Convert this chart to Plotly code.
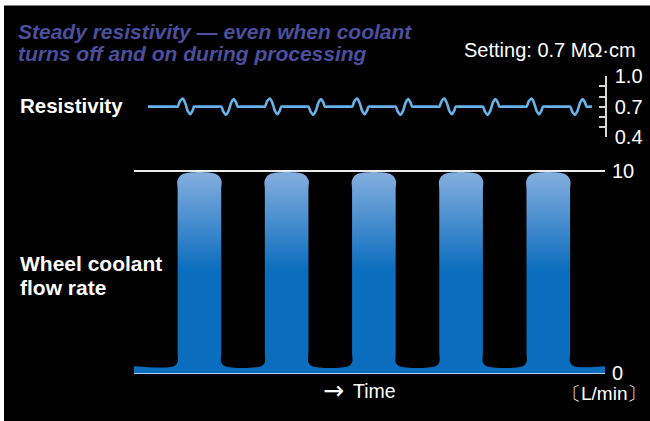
import plotly.graph_objects as go

W = 650
HF = 442          # figure height (page is photographed with a vertical squeeze)

# ---------------- data ----------------
coolant_on_times = [10, 30, 50, 70, 90]      # coolant switched on
coolant_off_times = [20, 40, 60, 80, 100]    # coolant switched off
flow_running = 9.85                          # L/min while coolant is on
flow_idle = 0.35                             # L/min while coolant is off
time_start, time_end = 0, 108
res_setting = 0.7                            # MΩ·cm
res_line_start, res_line_end = 3.2, 105
# resistivity excursion after a switch (time after switch, deviation from setting)
wiggle_dt = [0.0, 0.5, 1.15, 1.65, 2.0, 2.35, 2.9, 3.4, 3.8]
wiggle_dv = [0.0, 0.05, 0.08, 0.045, 0.0, -0.045, -0.075, -0.042, 0.0]
res_tick_vals = [0.4, 0.7, 1.0]
res_tick_text = ["0.4", "0.7", "1.0"]
res_minor_vals = [0.5, 0.6, 0.8, 0.9]
flow_tick_vals = [0, 10]
flow_tick_text = ["0", "10"]

# ---------------- style ----------------
FONT = "Liberation Sans"
BG = "black"
WHITE = "white"
BAR_DARK = "#0a6dbd"
BAR_LIGHT = "#82addf"
RES_COLOR = "#68b3ea"
TITLE_COLOR = "#4b4f9e"
AXIS_GRAY = "#d6d6d6"
BX, BY = 0.9, 0.2     # bottom fillet of the flow curve
TX, TY = 1.2, 0.3     # top rounded corner
EDGE_GUARD = 0.5      # extra points keeping the bar sides straight
FLAT_GUARD = 0.6

# photographed page: image_y = SQ * page_y + OFF ; figure placed TOP px above page top
SQ, OFF, TOP = 0.953, 9.3, 6


def px_x(p):
    return p / W


def fig_y(img_y):
    return (img_y - OFF) / SQ + TOP


def px_y(img_y):
    return 1 - fig_y(img_y) / HF


# flow curve key points
fx = [time_start]
fy = [flow_idle]
for t0, t1 in zip(coolant_on_times, coolant_off_times):
    fx += [t0 - BX, t0, t0, t0, t0, t0 + TX,
           t1 - TX, t1, t1, t1, t1, t1 + BX]
    fy += [flow_idle, flow_idle + BY, flow_idle + BY + EDGE_GUARD,
           flow_running - TY - EDGE_GUARD, flow_running - TY, flow_running,
           flow_running, flow_running - TY, flow_running - TY - EDGE_GUARD,
           flow_idle + BY + EDGE_GUARD, flow_idle + BY, flow_idle]
fx.append(time_end)
fy.append(flow_idle)

# resistivity key points: up-then-down after switch-on, down-then-up after switch-off
events = sorted([(t, 1) for t in coolant_on_times] +
                [(t, -1) for t in coolant_off_times])
rx = [res_line_start]
ry = [res_setting]
for t, sign in events:
    rx.append(t - FLAT_GUARD)
    ry.append(res_setting)
    for dt, dv in zip(wiggle_dt, wiggle_dv):
        rx.append(t + dt)
        ry.append(res_setting + sign * dv)
    rx.append(t + wiggle_dt[-1] + FLAT_GUARD)
    ry.append(res_setting)
rx.append(res_line_end)
ry.append(res_setting)

fig = go.Figure()

fig.add_trace(go.Scatter(
    x=fx, y=fy, mode="lines", xaxis="x", yaxis="y",
    line=dict(width=0, shape="spline", smoothing=1, color=BAR_DARK),
    fill="tozeroy",
    fillgradient=dict(type="vertical", start=0, stop=flow_running,
                      colorscale=[[0, BAR_DARK], [0.54, BAR_DARK], [1, BAR_LIGHT]]),
    hoverinfo="skip", showlegend=False,
))

fig.add_trace(go.Scatter(
    x=rx, y=ry, mode="lines", xaxis="x2", yaxis="y2",
    line=dict(width=2.6, shape="spline", smoothing=0.8, color=RES_COLOR),
    hoverinfo="skip", showlegend=False,
))

# flow axis: 0 at image y 373, 10 at image y 170 (range padded by 0.3 each side)
f0, f10 = fig_y(373), fig_y(170)
unit = (f0 - f10) / 10
flow_dom = [1 - (f0 + 0.3 * unit) / HF, 1 - (f10 - 0.3 * unit) / HF]

xdom = [px_x(134), px_x(605)]
fig.update_layout(
    width=W, height=HF,
    margin=dict(l=0, r=0, t=0, b=0),
    paper_bgcolor=WHITE,
    plot_bgcolor="rgba(0,0,0,0)",
    font=dict(family=FONT, color=WHITE, size=20),
    showlegend=False,
    xaxis=dict(domain=xdom, range=[time_start, time_end], visible=False,
               anchor="y", fixedrange=True),
    xaxis2=dict(domain=xdom, range=[time_start, time_end], visible=False,
                anchor="y2", fixedrange=True),
    yaxis=dict(domain=flow_dom, range=[-0.3, 10.3],
               side="right", anchor="x",
               tickmode="array", tickvals=flow_tick_vals, ticktext=flow_tick_text,
               showgrid=True, gridcolor="#ececec", gridwidth=2,
               zeroline=False, showline=False, ticks="",
               ticklabelstandoff=6,
               tickfont=dict(family=FONT, size=20, color=WHITE)),
    yaxis2=dict(domain=[px_y(136), px_y(75)], range=[0.399, 1.001],
                side="right", anchor="x2",
                tickmode="array", tickvals=res_tick_vals, ticktext=res_tick_text,
                showgrid=False, zeroline=False,
                showline=True, linecolor=AXIS_GRAY, linewidth=1.5,
                ticks="inside", ticklen=6, tickwidth=1.5, tickcolor=AXIS_GRAY,
                minor=dict(tickmode="array", tickvals=res_minor_vals,
                           ticks="inside", ticklen=6, tickwidth=1.5,
                           tickcolor=AXIS_GRAY, showgrid=False),
                ticklabelstandoff=4,
                tickfont=dict(family=FONT, size=20, color=WHITE)),
    shapes=[dict(type="rect", xref="paper", yref="paper",
                 x0=px_x(4), x1=1, y0=0, y1=px_y(4),
                 fillcolor=BG, line=dict(width=0), layer="below")],
)

ann = []


def add_text(text, x, y, xanchor="left", size=20, color=WHITE, family=FONT):
    ann.append(dict(text=text, x=px_x(x), y=px_y(y), xref="paper", yref="paper",
                    xanchor=xanchor, yanchor="middle", showarrow=False,
                    font=dict(family=family, size=size, color=color)))


add_text("<b><i>Steady resistivity — even when coolant</i></b>", 16, 30,
         size=21, color=TITLE_COLOR)
add_text("<b><i>turns off and on during processing</i></b>", 16, 52,
         size=21, color=TITLE_COLOR)
add_text("Setting: 0.7 MΩ·cm", 638, 49, xanchor="right", size=20)
add_text("<b>Resistivity</b>", 18, 104, size=20.5)
add_text("<b>Wheel coolant</b>", 18, 263, size=21)
add_text("<b>flow rate</b>", 18, 287, size=21)
add_text("→", 321, 390, size=25, family="DejaVu Sans")
add_text("Time", 351, 391, size=19.5)
add_text("〔L/min〕", 604, 393, xanchor="center", size=19)

fig.update_layout(annotations=ann)

fig.write_html(
    "out.html",
    config={"displayModeBar": False},
    post_script=(
        "document.documentElement.style.margin='0';"
        "document.documentElement.style.overflow='hidden';"
        "document.body.style.margin='0';document.body.style.padding='0';"
        "document.body.style.overflow='hidden';"
        "var gd=document.getElementById('{plot_id}');"
        "gd.style.position='fixed';gd.style.left='0';"
        "gd.style.top='-" + str(TOP) + "px';"
    ),
)
